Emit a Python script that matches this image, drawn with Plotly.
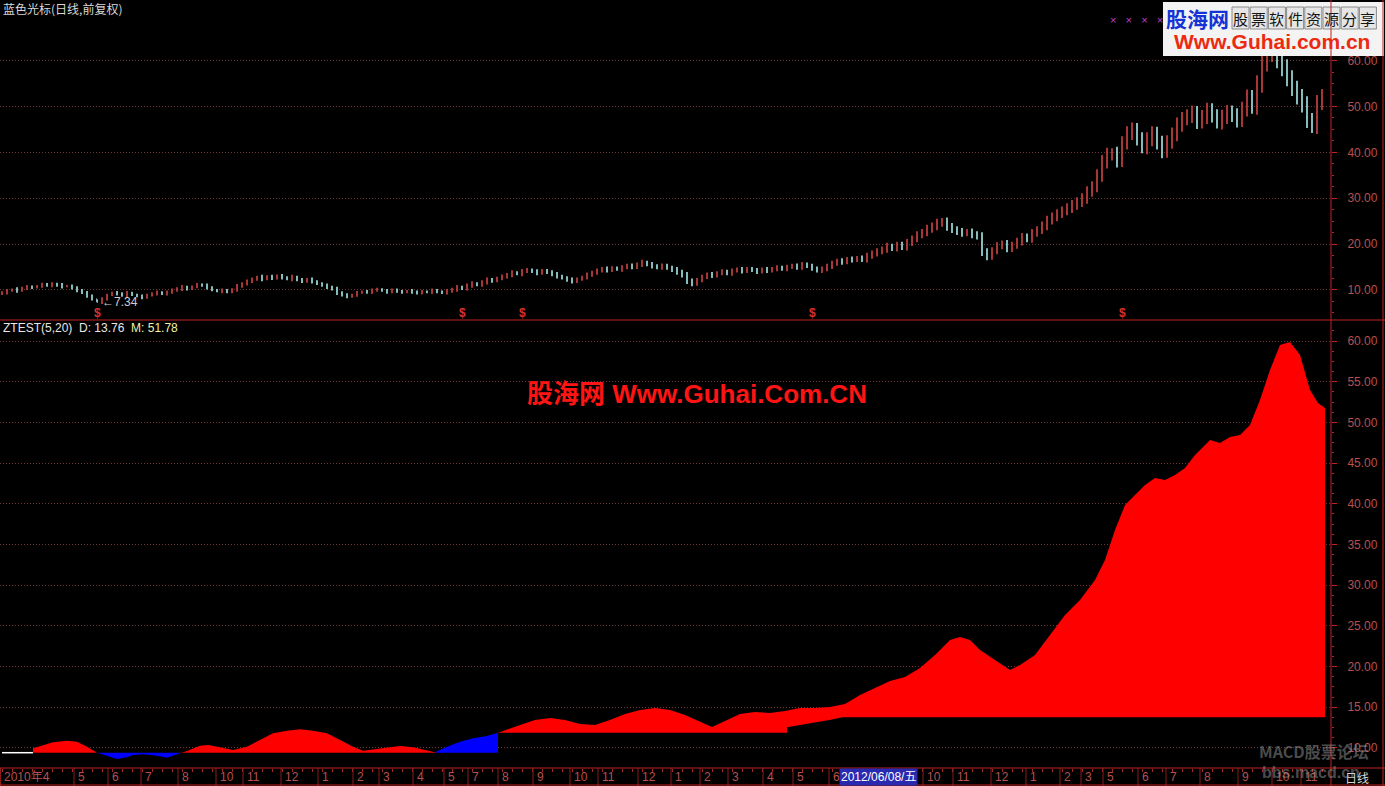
import plotly.graph_objects as go

# ---------------- data ----------------
# price closes, one bar per sample (left to right)
close = [
    9.4, 9.8, 10.1, 9.9, 10.4, 10.7, 10.5, 10.9, 11.2, 11.0,
    11.3, 11.0, 10.8, 10.9, 10.4, 9.9, 9.4, 8.7, 8.0, 7.34,
    8.0, 8.9, 9.4, 9.2, 8.8, 9.3, 9.0, 8.6, 8.4, 8.9,
    9.2, 9.5, 9.1, 9.6, 9.9, 10.3, 10.6, 10.2, 10.8, 11.1,
    11.0, 10.5, 10.0, 9.7, 9.9, 9.6, 10.1, 10.8, 11.4, 11.9,
    12.3, 12.8, 12.4, 12.9, 12.6, 13.1, 12.7, 12.4, 12.8, 12.2,
    11.9, 12.3, 11.8, 11.4, 11.0, 10.6, 10.2, 9.4, 8.9, 8.6,
    8.9, 9.4, 9.7, 9.5, 9.9, 10.2, 9.8, 9.6, 10.0, 9.7,
    9.5, 9.8, 9.6, 9.3, 9.7, 9.5, 9.9, 9.6, 9.4, 9.8,
    10.1, 10.6, 10.3, 11.0, 11.4, 11.1, 11.7, 12.2, 12.0, 12.6,
    12.9, 13.3, 13.8, 13.5, 14.1, 14.4, 14.0, 13.7, 14.2, 13.9,
    13.4, 13.0, 12.6, 12.2, 11.9, 12.3, 12.8, 13.3, 13.8, 14.2,
    14.6, 14.3, 14.8, 14.5, 14.9, 15.3, 15.0, 15.6, 16.0, 15.6,
    15.2, 14.9, 15.3, 14.8, 14.4, 13.9, 13.2, 12.0, 11.3, 12.2,
    12.8, 13.4, 13.1, 13.7, 14.0, 13.6, 14.2, 14.5, 14.1, 14.6,
    14.3, 14.0, 14.5, 14.2, 14.6, 14.9, 14.6, 15.0, 15.3, 14.9,
    15.6, 15.2, 14.7, 14.2, 14.6, 15.2, 15.8, 16.3, 16.1, 16.7,
    16.6, 16.9, 16.7, 17.4, 18.0, 18.4, 18.9, 19.5, 19.1, 19.8,
    19.4, 20.3, 21.2, 22.0, 22.6, 23.3, 23.9, 24.6, 24.9, 23.8,
    23.2, 22.7, 22.4, 22.6, 22.1, 21.7, 18.3, 17.3, 18.6, 19.6,
    20.1, 19.0, 19.8, 20.6, 21.5, 21.2, 22.4, 23.1, 24.0, 25.2,
    26.0, 26.6, 27.3, 27.9, 28.5, 29.2, 30.0, 31.4, 32.6, 35.0,
    38.0, 39.5, 39.6, 38.3, 42.0, 44.3, 44.9, 43.0, 41.2, 42.8,
    44.2, 42.0, 40.3, 42.2, 44.0, 46.0, 47.3, 48.0, 48.6, 46.6,
    47.8, 49.2, 48.0, 46.6, 47.7, 48.8, 48.0, 47.0, 49.5, 52.0,
    50.0, 55.0, 59.5, 61.8, 62.5, 60.3, 58.5, 56.2, 54.0, 52.0,
    50.5, 47.0, 45.8, 50.7, 52.3,
]
# estimated shadow (wick) length of each bar beyond its body
wick = [
    0.3, 0.4, 0.2, 0.5, 0.3, 0.4, 0.3, 0.2, 0.4, 0.3,
    0.4, 0.3, 0.5, 0.2, 0.3, 0.4, 0.3, 0.4, 0.3, 0.0,
    0.4, 0.3, 0.2, 0.4, 0.3, 0.5, 0.3, 0.2, 0.4, 0.3,
    0.3, 0.4, 0.2, 0.3, 0.4, 0.3, 0.5, 0.3, 0.2, 0.4,
    0.3, 0.4, 0.3, 0.2, 0.4, 0.3, 0.3, 0.5, 0.3, 0.4,
    0.4, 0.3, 0.5, 0.3, 0.4, 0.3, 0.4, 0.3, 0.5, 0.3,
    0.4, 0.3, 0.4, 0.3, 0.3, 0.4, 0.3, 0.5, 0.3, 0.4,
    0.3, 0.4, 0.2, 0.3, 0.4, 0.3, 0.2, 0.4, 0.3, 0.3,
    0.3, 0.2, 0.4, 0.3, 0.3, 0.2, 0.4, 0.3, 0.3, 0.4,
    0.4, 0.5, 0.3, 0.4, 0.5, 0.3, 0.4, 0.5, 0.4, 0.3,
    0.5, 0.4, 0.5, 0.3, 0.5, 0.4, 0.3, 0.5, 0.4, 0.4,
    0.4, 0.5, 0.3, 0.4, 0.5, 0.4, 0.3, 0.5, 0.4, 0.5,
    0.4, 0.5, 0.4, 0.3, 0.5, 0.4, 0.5, 0.4, 0.6, 0.4,
    0.5, 0.4, 0.5, 0.4, 0.5, 0.6, 0.5, 0.7, 0.5, 0.4,
    0.5, 0.4, 0.5, 0.4, 0.5, 0.4, 0.5, 0.4, 0.5, 0.4,
    0.4, 0.5, 0.4, 0.5, 0.4, 0.5, 0.4, 0.5, 0.4, 0.5,
    0.5, 0.4, 0.5, 0.4, 0.5, 0.5, 0.6, 0.5, 0.6, 0.5,
    0.6, 0.5, 0.6, 0.7, 0.6, 0.7, 0.6, 0.8, 0.6, 0.7,
    0.7, 0.8, 0.7, 0.8, 0.7, 0.9, 0.8, 0.9, 0.8, 0.9,
    0.8, 0.7, 0.8, 0.7, 0.8, 0.7, 0.9, 0.8, 0.7, 0.8,
    0.7, 0.8, 0.7, 0.8, 0.9, 0.8, 0.9, 0.8, 0.9, 1.0,
    0.9, 1.0, 0.9, 1.0, 1.1, 1.0, 1.1, 1.2, 1.1, 1.3,
    1.4, 1.5, 1.3, 1.6, 1.5, 1.4, 1.6, 1.5, 1.4, 1.6,
    1.5, 1.4, 1.6, 1.5, 1.4, 1.6, 1.5, 1.4, 1.6, 1.5,
    1.4, 1.6, 1.5, 1.4, 1.6, 1.5, 1.4, 1.6, 1.5, 1.7,
    1.6, 1.8, 2.0, 1.9, 2.1, 2.0, 1.9, 1.8, 1.7, 1.6,
    1.8, 1.7, 1.6, 1.8, 1.5,
]
first_open = 9.2
low_idx, low_val = 19, 7.34
signal_idx = [19, 92, 104, 162, 224]

# ZTEST indicator: M curve and D baseline
m_idx = [6.2, 10.2, 13, 15, 17, 19, 21.6, 23, 25, 26.2, 28.2, 31, 33, 34.2, 35.6,
         37, 39.6, 41.2, 43.6, 46.2, 49, 51.6, 54.2, 57, 59.6, 62.2, 65, 67.6, 70.2,
         72.2, 74.2, 77, 79.6, 82.2, 85, 86.6, 89, 91.6, 94.2, 97, 99.2, 101.6, 103.6,
         106.6, 109.6, 112.6, 115.6, 118.6, 121.6, 124.6, 127.6, 130.6, 133.6, 136.6,
         139.6, 142, 144.6, 147.6, 150.6, 153.6, 156.6, 159.6, 162.6, 165.6, 168.6,
         171.6, 174.6, 177.6, 180.6, 183.6, 186.6, 189.6, 191.6, 193.6, 195.6, 198.6,
         201.6, 203.6, 206.6, 209.6, 212.6, 215.6, 218.6, 220.6, 222.6, 224.6, 226.6,
         228.6, 230.6, 232.6, 234.6, 236.6, 238.6, 241.6, 243.6, 245.6, 247.6, 249.6,
         251.6, 253.6, 255.6, 257.6, 259.6, 261.6, 263.2, 264.6]
m_val = [9.96, 10.70, 10.90, 10.77, 10.16, 9.42, 8.93, 8.65, 8.86, 9.14, 9.23, 9.05, 8.81, 9.02, 9.35,
         9.63, 10.28, 10.37, 10.09, 9.75, 10.16, 10.98, 11.81, 12.13, 12.30, 12.13, 11.81, 10.98, 10.16,
         9.67, 9.84, 10.09, 10.25, 10.09, 9.75, 9.47, 10.16, 10.77, 11.19, 11.47, 11.88, 12.42, 12.83,
         13.44, 13.69, 13.44, 12.95, 12.83, 13.44, 14.18, 14.67, 14.91, 14.67, 14.05,
         13.19, 12.58, 13.32, 14.18, 14.42, 14.30, 14.55, 14.91, 14.91, 15.04, 15.41,
         16.51, 17.37, 18.23, 18.72, 19.83, 21.43, 23.27, 23.64, 23.27, 22.04, 20.81,
         19.58, 20.20, 21.43, 23.88, 26.34, 28.18, 30.64, 33.10, 36.78, 39.85, 41.08,
         42.31, 43.17, 42.92, 43.54, 44.40, 46.00, 47.84, 47.47, 48.21, 48.45, 49.68,
         52.75, 56.44, 59.51, 59.88, 58.28, 53.98, 52.38, 51.78]
d_idx = [0, 99.2, 99.2, 157, 157, 160, 163, 166, 168, 264.6]
d_val = [9.42, 9.42, 11.88, 11.88, 12.55, 12.85, 13.2, 13.5, 13.76, 13.76]
phase_breaks = [6.2, 19, 35.6, 86.6, 99.2, 264.6]
phase_colors = ["#ff0000", "#0000ff", "#ff0000", "#0000ff", "#ff0000"]

# time axis labels (month starts, by bar position)
month_labels = ["2010年4", "5", "6", "7", "8", "10", "11", "12",
                "1", "2", "3", "4", "5", "7", "8", "9", "10", "11", "12",
                "1", "2", "3", "4", "5", "6",
                "10", "11", "12",
                "1", "2", "3", "5", "6", "7", "8", "9", "10", "11"]
month_idx = [-0.3, 14.4, 21.2, 27.8, 35.2, 42.8, 48.2, 55.8,
             63.2, 70.2, 75.4, 82.2, 88.4, 93.2, 99.2, 106.2, 113.6, 119.2, 127.2,
             133.8, 139.6, 145.2, 152.2, 158.2, 165.4,
             184.2, 190.2, 197.8,
             204.8, 211.6, 215.8, 220.2, 227.2, 232.8, 239.6, 247.2, 254, 259.8]
cursor_idx, cursor_label = 167.3, "2012/06/08/五"

price_ticks = [10, 20, 30, 40, 50, 60]
ind_ticks = [10, 15, 20, 25, 30, 35, 40, 45, 50, 55, 60]

# ---------------- build ----------------
W, H = 1385, 786
opens = [first_open] + close[:-1]
highs = [max(o, c) + w for o, c, w in zip(opens, close, wick)]
lows = [min(o, c) - w for o, c, w in zip(opens, close, wick)]
bars = list(range(len(close)))

AX = "#c42222"
LBL = "#b85050"
GRID = "#6e3434"
XDOM = 1331 / W
XR = [-0.4, -0.4 + 1331 / 5]
CJK = "Noto Sans CJK SC"


def py(p):  # pixel row -> paper y
    return (H - p) / H


def px(p):
    return p / W


fig = go.Figure()

fig.add_trace(go.Ohlc(
    x=bars, open=opens, high=highs, low=lows, close=close,
    xaxis="x", yaxis="y", tickwidth=0.12,
    increasing=dict(line=dict(color="#d04545", width=1.6)),
    decreasing=dict(line=dict(color="#a8eaea", width=1.6)),
    showlegend=False, hoverinfo="skip",
))


def d_start(x):
    v = d_val[0]
    for xi, vi in zip(d_idx, d_val):
        if xi <= x:
            v = vi
    return v


def d_end(x):
    for xi, vi in zip(d_idx, d_val):
        if xi >= x:
            return vi
    return d_val[-1]


for k, col in enumerate(phase_colors):
    xa, xb = phase_breaks[k], phase_breaks[k + 1]
    mx = [x for x in m_idx if xa <= x <= xb]
    my = [v for x, v in zip(m_idx, m_val) if xa <= x <= xb]
    inner = [(x, v) for x, v in zip(d_idx, d_val) if xa < x < xb]
    dx = [xb] + [p[0] for p in reversed(inner)] + [xa]
    dy = [d_end(xb)] + [p[1] for p in reversed(inner)] + [d_start(xa)]
    fig.add_trace(go.Scatter(
        x=mx + dx, y=my + dy, xaxis="x2", yaxis="y2", mode="lines",
        fill="toself", fillcolor=col, line=dict(width=0, color=col),
        showlegend=False, hoverinfo="skip",
    ))

# D line before the indicator starts
fig.add_trace(go.Scatter(
    x=[d_idx[0], m_idx[0]], y=[d_val[0], d_val[0]], xaxis="x2", yaxis="y2",
    mode="lines", line=dict(color="#ffffff", width=1.5),
    showlegend=False, hoverinfo="skip",
))

ann = []
shapes = []


def A(**kw):
    kw.setdefault("showarrow", False)
    kw.setdefault("xanchor", "center")
    kw.setdefault("yanchor", "middle")
    ann.append(kw)


# signal markers and low label
for s in signal_idx:
    A(x=s, y=5.0, xref="x", yref="y", text="<b>$</b>",
      font=dict(color="#d83030", size=12, family="Liberation Sans"))
A(x=low_idx + 0.5, y=low_val, xref="x", yref="y", text="←" + f"{low_val:.2f}", xanchor="left",
  font=dict(color="#d0d0d0", size=12, family="Liberation Sans"))

# month labels on the time strip
strip_top = py(768)
for lab, xi in zip(month_labels, month_idx):
    A(x=xi + 0.35, y=py(777), xref="x2", yref="paper", text=lab, xanchor="left",
      font=dict(color=LBL, size=12, family="Liberation Sans Narrow, Liberation Sans, " + CJK))
    shapes.append(dict(type="line", xref="x2", yref="paper", x0=xi, x1=xi, y0=py(786), y1=strip_top,
                       line=dict(color="#8a1c1c", width=1)))
A(x=cursor_idx, y=py(777), xref="x2", yref="paper", text=cursor_label, xanchor="left",
  bgcolor="#2a2ab0", borderpad=1,
  font=dict(color="#ffffff", size=12, family="Liberation Sans Narrow, Liberation Sans, " + CJK))
A(x=px(1343), y=py(777), xref="paper", yref="paper", text="日线", xanchor="left",
  font=dict(color="#d8d8d8", size=12, family=CJK))

# titles
A(x=px(1), y=py(9), xref="paper", yref="paper", text="蓝色光标(日线,前复权)", xanchor="left",
  font=dict(color="#d8d8d8", size=12, family=CJK))
A(x=px(1), y=py(328), xref="paper", yref="paper", xanchor="left",
  text=(f"ZTEST(5,20)  D: {d_val[-1]:.2f}  "
        f"<span style='color:#f0f0a8'>M: {m_val[-1]:.2f}</span>"),
  font=dict(color="#e8e8e8", size=12, family="Liberation Sans"))

# watermarks
A(x=px(697), y=py(394), xref="paper", yref="paper", text="<b>股海网 Www.Guhai.Com.CN</b>",
  font=dict(color="#ff1414", size=26, family="Liberation Sans, " + CJK))
A(x=px(1136), y=py(20), xref="paper", yref="paper",
  text="×\u00a0\u00a0\u00a0×\u00a0\u00a0\u00a0×\u00a0\u00a0\u00a0×",
  font=dict(color="#c040c0", size=11, family="Liberation Sans"))
shapes.append(dict(type="rect", xref="paper", yref="paper", x0=px(1163), x1=px(1384), y0=py(56), y1=py(2),
                   fillcolor="#f3f3f3", line=dict(width=0), layer="above"))
A(x=px(1164), y=py(18), xref="paper", yref="paper", text="<b>股海网</b>", xanchor="left",
  font=dict(color="#1633d6", size=21, family=CJK))
tag = "股票软件资源分享"
for k, ch in enumerate(tag):
    x0 = 1232 + k * 18.2
    shapes.append(dict(type="rect", xref="paper", yref="paper", x0=px(x0), x1=px(x0 + 17), y0=py(29), y1=py(7),
                       fillcolor="#e6e6e6", line=dict(color="#8a8a8a", width=1), layer="above"))
    A(x=px(x0 + 8.5), y=py(18), xref="paper", yref="paper", text=ch,
      font=dict(color="#151515", size=15, family=CJK))
A(x=px(1272), y=py(42), xref="paper", yref="paper", text="<b>Www.Guhai.com.cn</b>",
  font=dict(color="#ec2a10", size=21, family="Liberation Sans"))
A(x=px(1257), y=py(751), xref="paper", yref="paper", text="<b>MACD股票论坛</b>", xanchor="left",
  font=dict(color="rgba(170,170,170,0.45)", size=16, family=CJK))
A(x=px(1260), y=py(772), xref="paper", yref="paper", text="<b>bbs.macd.cn</b>", xanchor="left",
  font=dict(color="rgba(170,170,170,0.45)", size=16, family="Liberation Sans"))

# frame lines
for yy in (320, 785):
    shapes.append(dict(type="line", xref="paper", yref="paper", x0=0, x1=1, y0=py(yy), y1=py(yy),
                       line=dict(color=AX, width=1)))
shapes.append(dict(type="line", xref="paper", yref="paper", x0=0, x1=1, y0=strip_top, y1=strip_top,
                   line=dict(color=AX, width=1)))
for xx in (1331, 1383):
    shapes.append(dict(type="line", xref="paper", yref="paper", x0=px(xx), x1=px(xx), y0=0, y1=1,
                       line=dict(color=AX, width=1)))

yax_common = dict(
    side="right", showgrid=True, gridcolor=GRID, griddash="1px,2px", gridwidth=1,
    showline=False, zeroline=False, ticks="outside", ticklen=5, tickcolor=AX,
    tickfont=dict(color=LBL, size=12, family="Liberation Sans"),
    minor=dict(ticks="outside", ticklen=2, tickcolor=AX, showgrid=False),
    ticklabelstandoff=8, fixedrange=True,
)

fig.update_layout(
    width=W, height=H, margin=dict(l=0, r=0, t=0, b=0),
    paper_bgcolor="#000000", plot_bgcolor="#000000",
    showlegend=False, hovermode=False,
    xaxis=dict(domain=[0, XDOM], range=XR, anchor="y", showgrid=False, zeroline=False,
               showticklabels=False, ticks="", rangeslider=dict(visible=False), fixedrange=True),
    xaxis2=dict(domain=[0, XDOM], range=XR, anchor="y2", showgrid=False, zeroline=False,
                showticklabels=False, ticks="outside", ticklen=3, tickcolor="#a02a2a",
                tickmode="linear", tick0=0, dtick=2, fixedrange=True),
    yaxis=dict(domain=[py(320), 1], range=[3.46, 73.2], anchor="x",
               tickvals=price_ticks, ticktext=[f"{v:.2f}" for v in price_ticks],
               minor_dtick=2.5, **yax_common),
    yaxis2=dict(domain=[strip_top, py(321)], range=[7.54, 62.46], anchor="x2",
                tickvals=ind_ticks, ticktext=[f"{v:.2f}" for v in ind_ticks],
                minor_dtick=1.25, **yax_common),
    annotations=ann, shapes=shapes,
)

fig.write_html("out.html", config={"displayModeBar": False},
               post_script="document.body.style.margin='0';document.body.style.overflow='hidden';")
